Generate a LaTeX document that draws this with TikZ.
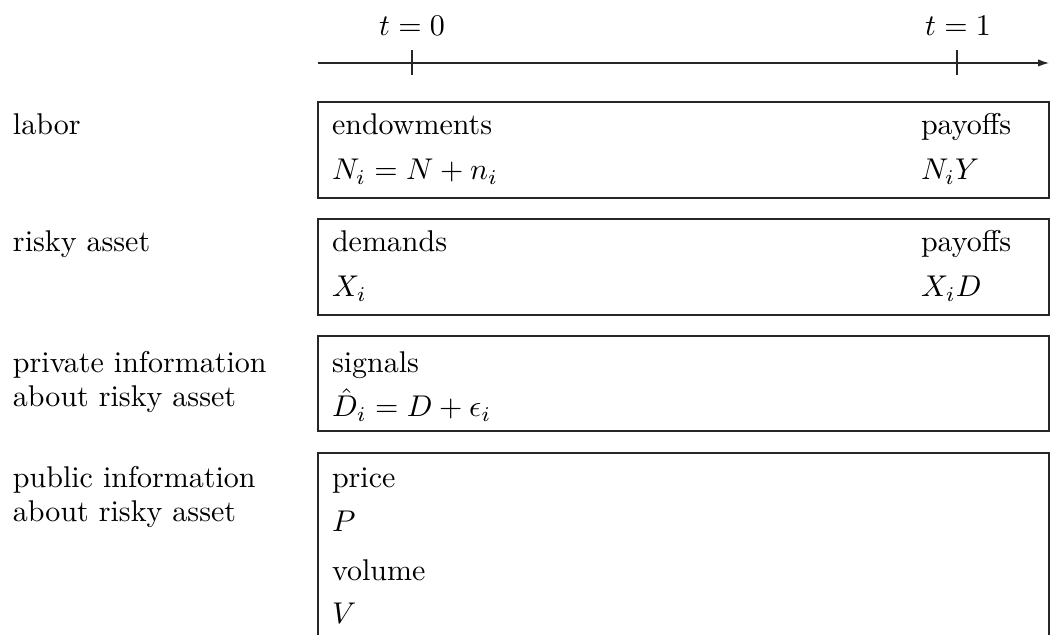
\documentclass[tikz,border=0pt]{standalone}
\usetikzlibrary{arrows.meta}
\begin{document}
\begin{tikzpicture}[x=0.33333pt,y=-0.33333pt,
  txt/.style={anchor=base west, inner sep=0pt, outer sep=0pt},
  tlbl/.style={anchor=base, inner sep=0pt},
  boxline/.style={draw=black!85, line width=0.36pt},
  axisline/.style={draw=black!85, line width=0.36pt, -{Latex[length=3.6pt,width=2.4pt]}},
  tickline/.style={draw=black!85, line width=0.36pt}]
\useasboundingbox (0,0) rectangle (1050,635);

% time axis
\coordinate (axL) at (318,63);
\coordinate (axR) at (1049,63);
\draw[axisline] (axL) -- (axR);
\coordinate (t0a) at (412,50); \coordinate (t0b) at (412,75);
\coordinate (t1a) at (957,50); \coordinate (t1b) at (957,75);
\draw[tickline] (t0a) -- (t0b);
\draw[tickline] (t1a) -- (t1b);
\node[tlbl] (t0) at (412,36) {$t=0$};
\node[tlbl] (t1) at (958,36) {$t=1$};

% boxes
\draw[boxline] (318,102) rectangle (1049,198);
\draw[boxline] (318,219) rectangle (1049,315);
\draw[boxline] (318,336) rectangle (1049,431);
\draw[boxline] (318,635) -- (318,453) -- (1049,453) -- (1049,635);

% left labels
\node[txt] (labor) at (13,135) {labor};
\node[txt] (risky) at (13,252) {risky asset};
\node[txt] (priv1) at (13,373) {private information};
\node[txt] (priv2) at (13,407) {about risky asset};
\node[txt] (pub1) at (13,488) {public information};
\node[txt] (pub2) at (13,522) {about risky asset};

% box 1
\node[txt] (endow) at (332,135) {endowments};
\node[txt] (Ni) at (332,180) {$N_i = N + n_i$};
\node[txt] (pay1) at (921,135) {payoffs};
\node[txt] (NiY) at (921,180) {$N_iY$};

% box 2
\node[txt] (dem) at (332,252) {demands};
\node[txt] (Xi) at (332,297) {$X_i$};
\node[txt] (pay2) at (921,252) {payoffs};
\node[txt] (XiD) at (921,297) {$X_iD$};

% box 3
\node[txt] (sig) at (332,373) {signals};
\node[txt] (Dhat) at (332,417) {$\hat{D}_i = D + \epsilon_i$};

% box 4
\node[txt] (price) at (332,488) {price};
\node[txt] (P) at (332,532) {$P$};
\node[txt] (vol) at (332,581) {volume};
\node[txt] (V) at (332,624) {$V$};
\end{tikzpicture}
\end{document}
